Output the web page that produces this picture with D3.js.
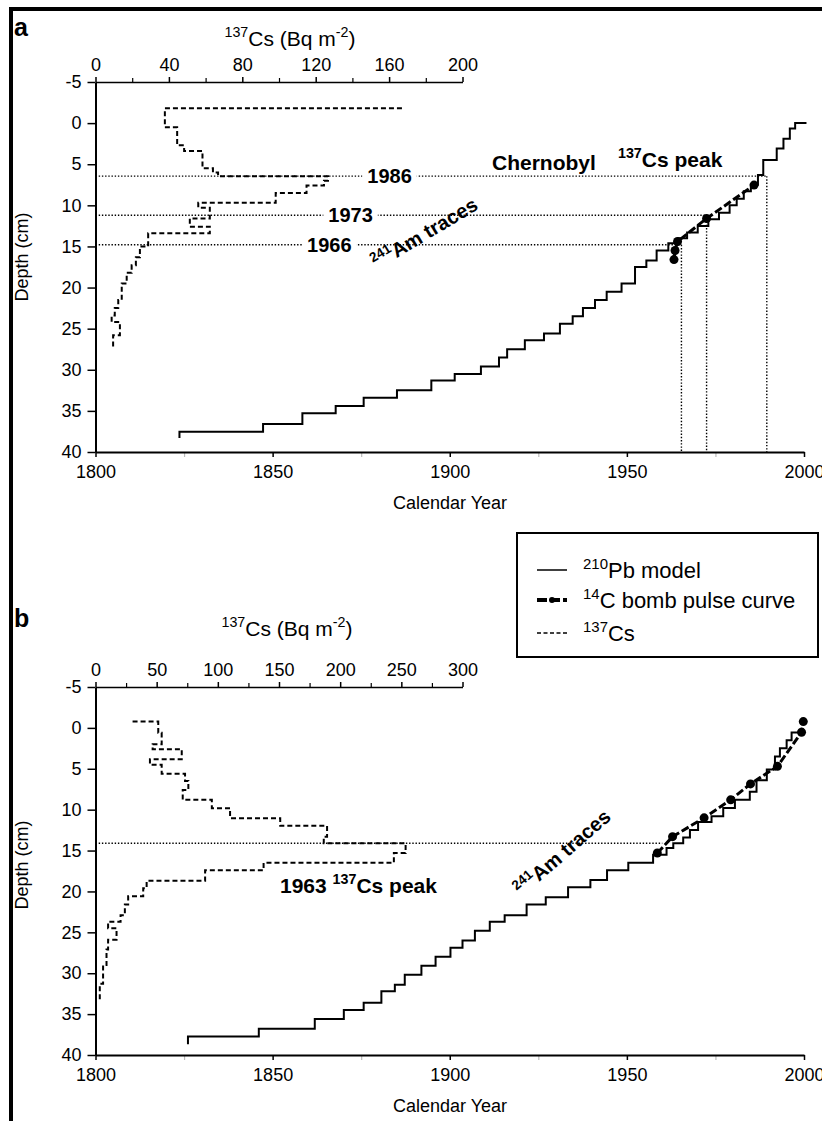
<!DOCTYPE html>
<html>
<head>
<meta charset="utf-8">
<script src="https://cdn.jsdelivr.net/npm/d3@7"></script>
<style>
  html, body { margin: 0; padding: 0; background: #fff; }
  svg { display: block; font-family: "Liberation Sans", Arial, sans-serif; }
</style>
</head>
<body>
<script>
// ---------------- DATA ----------------
const yearTicks = [1800, 1850, 1900, 1950, 2000];
const yearMinorTicks = [1825, 1875, 1925, 1975];
const depthTicks = [-5, 0, 5, 10, 15, 20, 25, 30, 35, 40];
const csTicksA = [0, 40, 80, 120, 160, 200];
const csMinorA = [20, 60, 100, 140, 180];
const csTicksB = [0, 50, 100, 150, 200, 250, 300];
const csMinorB = [25, 75, 125, 175, 225, 275];

// Panel a: 210Pb model steps (segment start year, depth)
const pbA_year  = [1823.7, 1823.7, 1847.3, 1858.4, 1867.8, 1875.7, 1885.1, 1894.8, 1901.4, 1908.8, 1913.9, 1916.2, 1921.2, 1926.6, 1931.1, 1934.7, 1937.6, 1941.0, 1944.3, 1948.5, 1952.3, 1955.5, 1958.4, 1961.7, 1964.5, 1967.0, 1970.0, 1973.0, 1976.0, 1979.0, 1981.0, 1983.0, 1985.0, 1987.0, 1988.5, 1992.3, 1994.2, 1996.0, 1997.5, 2000.7];
const pbA_depth = [38.3, 37.55, 36.6, 35.3, 34.4, 33.4, 32.5, 31.3, 30.5, 29.6, 28.5, 27.5, 26.4, 25.6, 24.4, 23.5, 22.5, 21.5, 20.5, 19.5, 17.5, 16.7, 15.5, 14.6, 14.0, 13.3, 12.5, 11.7, 10.9, 10.0, 9.2, 8.3, 7.5, 6.3, 4.5, 3.1, 1.9, 0.65, 0.0, 0.0];

// Panel a: 14C bomb pulse points
const c14A_year  = [1963.3, 1963.6, 1964.3, 1972.5, 1985.9];
const c14A_depth = [16.6, 15.5, 14.4, 11.6, 7.54];

// Panel a: 137Cs profile (value per depth interval)
const csA_bounds = [-1.8, -1.8, 0.5, 2.7, 3.4, 5.5, 6.0, 6.45, 7.0, 7.6, 8.5, 9.7, 10.3, 11.6, 12.6, 13.4, 15.0, 16.3, 17.3, 18.2, 19.5, 21.5, 22.5, 23.4, 24.2, 25.8, 27.2];
const csA_values = [167, 37.8, 44.5, 48.3, 58.3, 64, 66.8, 126.7, 124.5, 115, 98.2, 56, 62.3, 51.4, 62.3, 28.7, 24.2, 22, 19.7, 17, 14.3, 12.4, 10.5, 8.8, 13.3, 9.6];

// Panel a: dated horizons
const horizA_label = ["1986", "1973", "1966"];
const horizA_depth = [6.45, 11.2, 14.8];
const horizA_year  = [1989.5, 1972.5, 1965.4];
const horizA_labelYear = [1883, 1872, 1866];

// Panel b: 210Pb model steps
const pbB_year  = [1826.1, 1826.1, 1846.1, 1861.9, 1870.1, 1875.7, 1880.7, 1884.5, 1887.3, 1892.0, 1896.0, 1900.2, 1903.6, 1907.1, 1911.3, 1915.5, 1921.7, 1927.1, 1933.4, 1939.7, 1944.4, 1950.4, 1957.4, 1961.2, 1963.1, 1965.9, 1967.8, 1970.1, 1973.9, 1977.2, 1980.5, 1984.7, 1986.6, 1989.5, 1991.8, 1993.2, 1995.1, 1996.5, 1998.9];
const pbB_depth = [38.7, 37.74, 36.8, 35.6, 34.5, 33.6, 32.2, 31.4, 30.2, 29.1, 28.0, 26.9, 26.0, 24.8, 23.7, 22.9, 21.6, 20.7, 19.5, 18.6, 17.4, 16.5, 15.5, 14.7, 14.1, 13.4, 12.5, 11.5, 10.8, 9.8, 8.8, 7.8, 6.4, 5.1, 3.5, 2.5, 1.5, 0.57, 0.57];

// Panel b: 14C bomb pulse points
const c14B_year  = [1958.6, 1962.9, 1971.8, 1979.3, 1984.9, 1992.5, 1999.3, 1999.8];
const c14B_depth = [15.3, 13.3, 11.0, 8.8, 6.85, 4.7, 0.53, -0.77];

// Panel b: 137Cs profile
const csB_bounds = [-0.77, -0.77, 0.6, 2.0, 2.6, 3.83, 4.52, 5.62, 6.5, 7.6, 8.8, 9.82, 11.04, 11.98, 13.3, 14.1, 15.3, 16.5, 17.4, 18.7, 19.6, 20.6, 21.6, 22.9, 23.7, 24.5, 25.9, 27.1, 29, 31.3, 33.3];
const csB_values = [30.3, 51.3, 54.1, 46.7, 70.5, 44.5, 54.1, 73.2, 75.9, 71.3, 95.1, 110, 151, 189.3, 186.6, 253.5, 243.9, 137.4, 89.6, 41.8, 39, 26.7, 24, 20.5, 10.3, 17.2, 10.3, 9, 6.2, 3.5];

// Panel b: 1963 horizon
const horizB_depth = 14.1;
const horizB_year = 1960;

// ---------------- DRAWING ----------------
const W = 822, H = 1121;
const svg = d3.select("body").append("svg").attr("width", W).attr("height", H);
const FONT = '"Liberation Sans", Arial, sans-serif';

// frame
svg.append("line").attr("x1", 9).attr("x2", W).attr("y1", 9).attr("y2", 9).attr("stroke", "#000").attr("stroke-width", 4);
svg.append("line").attr("x1", 11).attr("x2", 11).attr("y1", 7).attr("y2", H).attr("stroke", "#000").attr("stroke-width", 4);

function richText(g, parts, x, y, size, weight, anchor) {
  const t = g.append("text").attr("x", x).attr("y", y)
    .attr("font-size", size).attr("font-weight", weight || "normal")
    .attr("text-anchor", anchor || "start").attr("fill", "#000");
  let shifted = false;
  parts.forEach(p => {
    const ts = t.append("tspan").text(p.t);
    if (p.sup) {
      ts.attr("font-size", size * 0.68).attr("dy", shifted ? 0 : -size * 0.42);
      shifted = true;
    } else {
      ts.attr("dy", shifted ? size * 0.42 : 0);
      shifted = false;
    }
  });
  return t;
}

function profileVerts(bounds, values) {
  const v = [];
  values.forEach((val, i) => { v.push([val, bounds[i]]); v.push([val, bounds[i + 1]]); });
  return v;
}

function styleTickText(a) {
  a.selectAll("text").attr("font-size", 18).attr("font-family", FONT).attr("fill", "#000");
}

function panel(cfg) {
  const g = svg.append("g");
  const x = d3.scaleLinear().domain([1800, 2000]).range([95.5, 804]);
  const y = d3.scaleLinear().domain([-5, 40]).range([cfg.top, cfg.bottom]);
  const cs = d3.scaleLinear().domain([0, cfg.csMax]).range([95.5, 462.5]);

  // minor bottom ticks
  g.append("g").attr("transform", `translate(0,${cfg.bottom})`)
    .call(d3.axisBottom(x).tickValues(yearMinorTicks).tickSize(5).tickFormat(""))
    .call(a => a.select(".domain").remove())
    .call(a => a.selectAll("line").attr("stroke", "#bbb").attr("stroke-width", 1.2));
  // bottom axis
  g.append("g").attr("transform", `translate(0,${cfg.bottom})`)
    .call(d3.axisBottom(x).tickValues(yearTicks).tickSize(5).tickSizeOuter(0).tickPadding(8).tickFormat(d => String(d)))
    .call(a => a.select(".domain").attr("stroke-width", 2))
    .call(a => a.selectAll("line").attr("stroke-width", 1.5))
    .call(styleTickText);
  // left axis
  g.append("g").attr("transform", `translate(95.5,0)`)
    .call(d3.axisLeft(y).tickValues(depthTicks).tickSize(8).tickSizeOuter(0).tickPadding(6).tickFormat(d => String(d)))
    .call(a => a.select(".domain").attr("stroke-width", 2))
    .call(a => a.selectAll("line").attr("stroke-width", 1.5))
    .call(styleTickText);
  // top Cs axis
  g.append("g").attr("transform", `translate(0,${cfg.top})`)
    .call(d3.axisTop(cs).tickValues(cfg.csMinor).tickSize(4).tickFormat(""))
    .call(a => a.select(".domain").remove())
    .call(a => a.selectAll("line").attr("stroke-width", 1.2));
  g.append("g").attr("transform", `translate(0,${cfg.top})`)
    .call(d3.axisTop(cs).tickValues(cfg.csTicks).tickSize(5).tickSizeOuter(0).tickPadding(6).tickFormat(d => String(d)))
    .call(a => a.select(".domain").attr("stroke-width", 1.5))
    .call(a => a.selectAll("line").attr("stroke-width", 1.5))
    .call(styleTickText);

  // axis titles
  g.append("text").attr("x", 450).attr("y", cfg.bottom + 57).attr("text-anchor", "middle")
    .attr("font-size", 18).text("Calendar Year");
  g.append("text").attr("transform", `translate(28,${cfg.depthLabelY}) rotate(-90)`)
    .attr("text-anchor", "middle").attr("font-size", 18).text("Depth (cm)");
  richText(g, [{t: "137", sup: true}, {t: "Cs (Bq m"}, {t: "-2", sup: true}, {t: ")"}],
    cfg.csTitleX, cfg.csTitleY, 21, "normal", "middle");
  // panel letter
  g.append("text").attr("x", 14).attr("y", cfg.letterY).attr("font-size", 25).attr("font-weight", "bold").text(cfg.letter);

  const ref = g.append("g").attr("fill", "none").attr("stroke", "#000")
    .attr("stroke-width", 1.4).attr("stroke-dasharray", "1.4,1.8");

  // Cs profile
  const verts = profileVerts(cfg.csBounds, cfg.csValues);
  g.append("path").attr("d", d3.line().x(d => cs(d[0])).y(d => y(d[1]))(verts))
    .attr("fill", "none").attr("stroke", "#000").attr("stroke-width", 2).attr("stroke-dasharray", "5,3");

  // Pb model
  const pb = cfg.pbYear.map((yr, i) => [yr, cfg.pbDepth[i]]);
  g.append("path").attr("d", d3.line().x(d => x(d[0])).y(d => y(d[1])).curve(d3.curveStepAfter)(pb))
    .attr("fill", "none").attr("stroke", "#000").attr("stroke-width", 2);

  // 14C
  const c = cfg.c14Year.map((yr, i) => [yr, cfg.c14Depth[i]]);
  g.append("path").attr("d", d3.line().x(d => x(d[0])).y(d => y(d[1]))(c))
    .attr("fill", "none").attr("stroke", "#000").attr("stroke-width", 3).attr("stroke-dasharray", "8,3");
  g.selectAll(null).data(c).join("circle").attr("cx", d => x(d[0])).attr("cy", d => y(d[1]))
    .attr("r", 4.5).attr("fill", "#000");

  const labels = g.append("g");
  return {g, x, y, cs, ref, labels};
}

// ----- Panel a -----
const A = panel({
  top: 82, bottom: 452, csMax: 200, csTicks: csTicksA, csMinor: csMinorA,
  csTitleX: 290, csTitleY: 46, letter: "a", letterY: 36, depthLabelY: 257,
  csBounds: csA_bounds, csValues: csA_values,
  pbYear: pbA_year, pbDepth: pbA_depth, c14Year: c14A_year, c14Depth: c14A_depth
});
horizA_depth.forEach((d, i) => {
  A.ref.append("line").attr("x1", A.x(1800)).attr("x2", A.x(horizA_year[i])).attr("y1", A.y(d)).attr("y2", A.y(d));
  A.ref.append("line").attr("x1", A.x(horizA_year[i])).attr("x2", A.x(horizA_year[i])).attr("y1", A.y(d)).attr("y2", A.y(40));
  const bg = A.labels.append("rect").attr("fill", "#fff");
  const t = A.labels.append("text").attr("x", A.x(horizA_labelYear[i])).attr("y", A.y(d) + 7)
    .attr("text-anchor", "middle").attr("font-size", 20).attr("font-weight", "bold").text(horizA_label[i]);
  const bb = t.node().getBBox();
  bg.attr("x", bb.x - 5).attr("y", A.y(d) - 2).attr("width", bb.width + 10).attr("height", 4);
});
A.labels.append("text").attr("x", 492).attr("y", 170).attr("font-size", 21).attr("font-weight", "bold").text("Chernobyl");
richText(A.labels, [{t: "137", sup: true}, {t: "Cs peak"}], 618, 167, 21, "bold", "start");
richText(A.labels, [{t: "241", sup: true}, {t: "Am traces"}], 0, 0, 20, "bold", "start")
  .attr("transform", "translate(377,270) rotate(-31)");

// ----- Panel b -----
const B = panel({
  top: 687, bottom: 1055, csMax: 300, csTicks: csTicksB, csMinor: csMinorB,
  csTitleX: 287, csTitleY: 636, letter: "b", letterY: 627, depthLabelY: 865,
  csBounds: csB_bounds, csValues: csB_values,
  pbYear: pbB_year, pbDepth: pbB_depth, c14Year: c14B_year, c14Depth: c14B_depth
});
B.ref.append("line").attr("x1", B.x(1800)).attr("x2", B.x(horizB_year)).attr("y1", B.y(horizB_depth)).attr("y2", B.y(horizB_depth));
richText(B.labels, [{t: "1963 "}, {t: "137", sup: true}, {t: "Cs peak"}], 280, 893, 21, "bold", "start");
richText(B.labels, [{t: "241", sup: true}, {t: "Am traces"}], 0, 0, 20, "bold", "start")
  .attr("transform", "translate(522,897) rotate(-41)");

// ----- Legend -----
const legendItems = [
  {parts: [{t: "210", sup: true}, {t: "Pb model"}], type: "pb"},
  {parts: [{t: "14", sup: true}, {t: "C bomb pulse curve"}], type: "c14"},
  {parts: [{t: "137", sup: true}, {t: "Cs"}], type: "cs"}
];
const lg = svg.append("g");
lg.append("rect").attr("x", 517).attr("y", 533).attr("width", 301).attr("height", 124)
  .attr("fill", "#fff").attr("stroke", "#000").attr("stroke-width", 2);
const rowY = [570, 600, 633];
legendItems.forEach((it, i) => {
  const yy = rowY[i];
  const ln = lg.append("line").attr("x1", 537).attr("x2", 567).attr("y1", yy).attr("y2", yy).attr("stroke", "#000");
  if (it.type === "pb") ln.attr("stroke-width", 1.5);
  if (it.type === "c14") {
    ln.attr("stroke-width", 4).attr("stroke-dasharray", "10,3");
    lg.append("circle").attr("cx", 552).attr("cy", yy).attr("r", 3).attr("fill", "#000");
  }
  if (it.type === "cs") ln.attr("stroke-width", 1.5).attr("stroke-dasharray", "4,2.5");
  richText(lg, it.parts, 583, yy + 8, 22, "normal", "start");
});
</script>
</body>
</html>
